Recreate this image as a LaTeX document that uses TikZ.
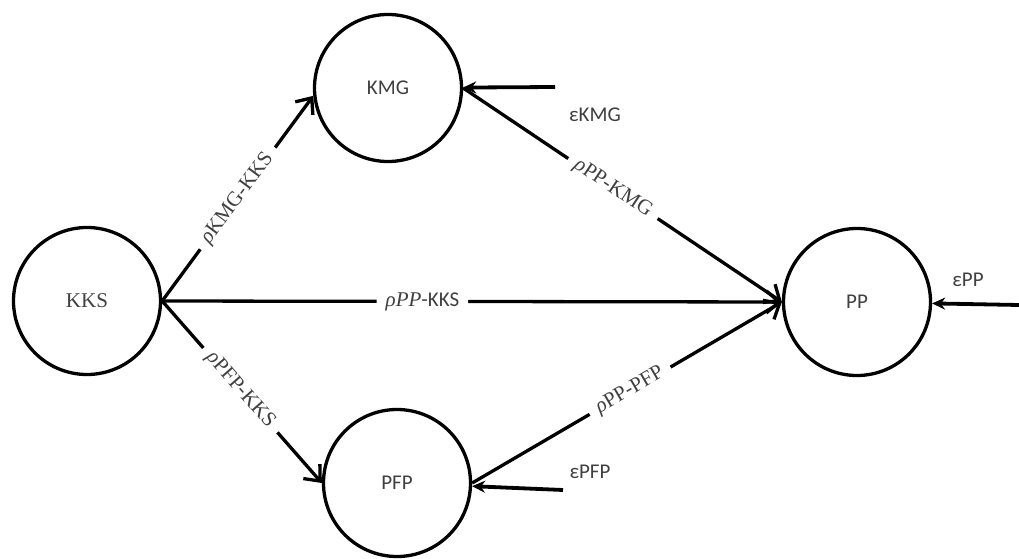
\documentclass[tikz,border=0pt]{standalone}
\usepackage{fontspec}
\setmainfont{Liberation Serif}
\newfontfamily\sansfont{Carlito}
\usetikzlibrary{arrows.meta}

\begin{document}
\begin{tikzpicture}[x=1pt,y=1pt,
    state/.style={circle,draw,line width=3.3pt,minimum size=147pt,inner sep=0pt,
        text=black!75,font=\fontsize{21}{21}\selectfont},
    flow/.style={line width=3.3pt,-{Straight Barb[length=13pt,width=22pt]}},
    input/.style={line width=3.8pt,-{Stealth[length=13pt,width=12pt]}},
    rate/.style={sloped,fill=white,inner sep=9pt,text=black!75,font=\fontsize{21}{21}\selectfont},
    eps/.style={text=black!75,font=\sansfont\fontsize{21}{21}\selectfont}]
    % Fix the size of the picture
    \useasboundingbox (0,0) rectangle (1019,558);

    % The four states
    \node[state] (kks) at (87,257) {KKS};
    \node[state,font=\sansfont\fontsize{21}{21}\selectfont] (kmg) at (388,470) {KMG};
    \node[state,font=\sansfont\fontsize{21}{21}\selectfont] (pfp) at (397,75) {PFP};
    \node[state,font=\sansfont\fontsize{21}{21}\selectfont] (pp) at (857,256) {PP};

    % Flows out of KKS
    \draw[flow] (kks.east) -- node[rate,pos=0.5] {\textit{ρ}KMG-KKS} (kmg.186);
    \draw[flow] (kks.east) -- node[rate,pos=0.49] {\textit{ρ}PFP-KKS} (pfp.west);
    \draw[flow] (kks.east) -- node[rate,pos=0.42] {\textit{ρPP}{\sansfont -KKS}} (pp.west);

    % Flows into PP
    \draw[flow] (kmg.east) -- node[rate,pos=0.47] {\textit{ρ}PP-KMG} (pp.west);
    \draw[flow] (pfp.east) -- node[rate,pos=0.51] {\textit{ρ}PP-PFP} (pp.west);

    % Outside inputs
    \coordinate (kmgin) at (555,471);
    \coordinate (pfpin) at (563,68);
    \coordinate (ppin) at (1019,253);
    \draw[input] (kmgin) -- (kmg);
    \draw[input] (pfpin) -- (pfp);
    \draw[input] (ppin) -- (pp);
    \node[eps] (epskmg) at (595,443) {εKMG};
    \node[eps] (epspfp) at (590,86) {εPFP};
    \node[eps] (epspp) at (968,278) {εPP};
\end{tikzpicture}
\end{document}
